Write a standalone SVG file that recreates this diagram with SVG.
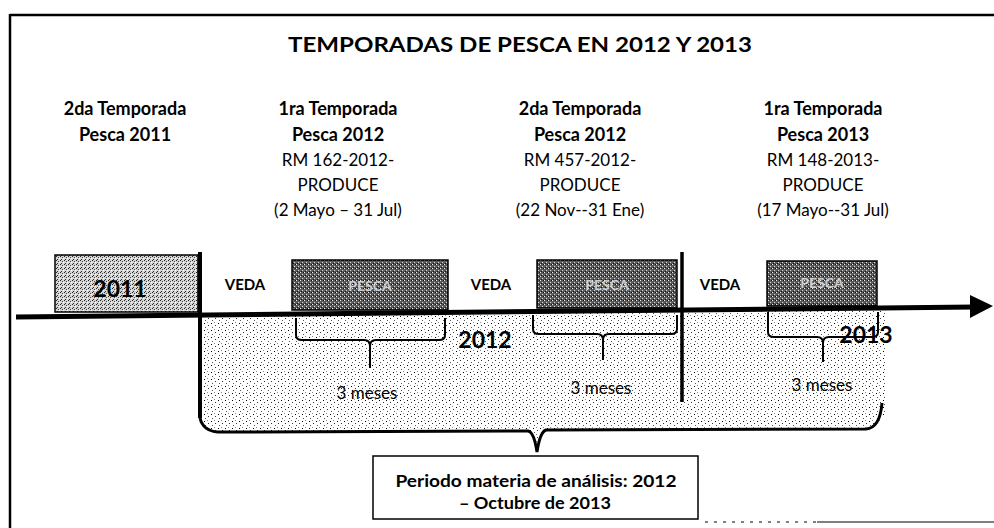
<svg xmlns="http://www.w3.org/2000/svg" width="994" height="528" viewBox="0 0 994 528">
<style>
text{font-family:Lato,"Liberation Sans",sans-serif;fill:#000;text-anchor:middle}
.h{font-size:18px;font-weight:bold}
.r{font-size:17px}
.yr{font-size:23px;font-weight:bold}
.veda{font-size:15px;font-weight:bold}
.pes{font-size:14px;font-weight:bold;fill:#cfcfcf}
.ms{font-size:17px}
.box{stroke:#000;stroke-width:1.5}
.ln{fill:none;stroke:#000;stroke-linecap:butt;stroke-linejoin:round}
</style>
<defs>
<pattern id="pLight" width="7" height="7" patternUnits="userSpaceOnUse">
<rect width="7" height="7" fill="#fff"/>
<rect x="1" y="1" width="1" height="1" fill="#000"/>
<rect x="5" y="3" width="1" height="1" fill="#333"/>
<rect x="2" y="5" width="1" height="1" fill="#555"/>
<rect x="4" y="0" width="1" height="1" fill="#888"/>
</pattern>
<pattern id="pMed" width="4" height="4" patternUnits="userSpaceOnUse">
<rect width="4" height="4" fill="#d4d4d4"/>
<rect x="0" y="0" width="1" height="1" fill="#222"/>
<rect x="2" y="1" width="1" height="1" fill="#444"/>
<rect x="1" y="3" width="1" height="1" fill="#333"/>
<rect x="3" y="2" width="1" height="1" fill="#fff"/>
</pattern>
<pattern id="pDark" width="4" height="4" patternUnits="userSpaceOnUse">
<rect width="4" height="4" fill="#5a5a5a"/>
<rect x="0" y="0" width="1" height="1" fill="#eee"/>
<rect x="2" y="2" width="1" height="1" fill="#ddd"/>
<rect x="3" y="0" width="1" height="1" fill="#111"/>
<rect x="1" y="3" width="1" height="1" fill="#111"/>
</pattern>
</defs>

<g id="frame">
<line x1="10" y1="15" x2="994" y2="15" stroke="#000" stroke-width="2.5"/>
<line x1="10" y1="14" x2="10" y2="528" stroke="#000" stroke-width="2.5"/>
<line x1="705" y1="522" x2="817" y2="522" stroke="#000" stroke-width="1" stroke-dasharray="3 6"/>
<line x1="817" y1="522" x2="994" y2="522" stroke="#000" stroke-width="1.2"/>
</g>

<g id="title"><text x="520" y="52" style="font-size:21px;font-weight:bold" textLength="464" lengthAdjust="spacingAndGlyphs">TEMPORADAS DE PESCA EN 2012 Y 2013</text></g>

<g id="label-2011">
<text class="h" x="125" y="115">2da Temporada</text>
<text class="h" x="125" y="141">Pesca 2011</text>
</g>
<g id="label-1ra-2012">
<text class="h" x="338" y="115">1ra Temporada</text>
<text class="h" x="338" y="141">Pesca 2012</text>
<text class="r" x="338" y="166">RM 162-2012-</text>
<text class="r" x="338" y="191">PRODUCE</text>
<text class="r" x="338" y="216">(2 Mayo – 31 Jul)</text>
</g>
<g id="label-2da-2012">
<text class="h" x="580" y="115">2da Temporada</text>
<text class="h" x="580" y="141">Pesca 2012</text>
<text class="r" x="580" y="166">RM 457-2012-</text>
<text class="r" x="580" y="191">PRODUCE</text>
<text class="r" x="580" y="216">(22 Nov--31 Ene)</text>
</g>
<g id="label-1ra-2013">
<text class="h" x="823" y="115">1ra Temporada</text>
<text class="h" x="823" y="141">Pesca 2013</text>
<text class="r" x="823" y="166">RM 148-2013-</text>
<text class="r" x="823" y="191">PRODUCE</text>
<text class="r" x="823" y="216">(17 Mayo--31 Jul)</text>
</g>

<g id="period-area">
<path d="M200,316 L886,309 L886,405 Q884,428 866,429 L546,430 Q540,432 537,450 Q534,432 528,431 L218,432 Q203,431 200,418 Z" fill="url(#pLight)"/>
</g>

<g id="box-2011">
<rect class="box" x="55" y="255" width="143" height="57" fill="url(#pMed)"/>
<text class="yr" x="120" y="297">2011</text>
</g>
<g id="pesca-1">
<rect class="box" x="292" y="260" width="156" height="50" fill="url(#pDark)"/>
<text class="pes" x="370" y="291">PESCA</text>
</g>
<g id="pesca-2">
<rect class="box" x="537" y="260" width="140" height="48" fill="url(#pDark)"/>
<text class="pes" x="607" y="290">PESCA</text>
</g>
<g id="pesca-3">
<rect class="box" x="767" y="261" width="110" height="45" fill="url(#pDark)"/>
<text class="pes" x="822" y="288">PESCA</text>
</g>

<g id="veda-labels">
<text class="veda" x="245" y="290">VEDA</text>
<text class="veda" x="491" y="290">VEDA</text>
<text class="veda" x="720" y="290">VEDA</text>
</g>

<g id="year-labels">
<text class="yr" x="485" y="348">2012</text>
<text class="yr" x="866" y="343">2013</text>
</g>

<g id="meses">
<text class="ms" x="367" y="399">3 meses</text>
<text class="ms" x="601" y="394">3 meses</text>
<text class="ms" x="822" y="391">3 meses</text>
</g>

<g id="connectors">
<line x1="16" y1="317" x2="975" y2="307" stroke="#000" stroke-width="5"/>
<polygon points="970,295 993,306 970,318" fill="#000"/>
<line x1="200" y1="252" x2="200" y2="418" stroke="#000" stroke-width="4"/>
<line x1="682" y1="252" x2="682" y2="402" stroke="#000" stroke-width="3.5"/>
<path class="ln" stroke-width="3" d="M200,418 Q203,431 218,432 L528,431 Q534,432 537,452 M537,452 Q540,432 546,430 L866,429 Q880,428 882,403"/>
<path class="ln" stroke-width="2" d="M296,318 L296,335 Q296,340 302,340 L364,340 Q370,340 370,346 L370,368 M370,346 Q370,340 376,340 L439,340 Q445,340 445,335 L445,318"/>
<path class="ln" stroke-width="2" d="M533,315 L533,329 Q533,334 539,334 L597,334 Q603,334 603,340 L603,360 M603,340 Q603,334 609,334 L671,334 Q677,334 677,329 L677,315"/>
<path class="ln" stroke-width="2" d="M768,312 L768,332 Q768,337 774,337 L817,337 Q823,337 823,343 L823,362 M823,343 Q823,337 829,337 L872,337 Q878,337 878,332 L878,312"/>
</g>

<g id="analysis-box">
<rect x="373" y="456" width="325" height="63" fill="#fff" stroke="#000" stroke-width="1.5"/>
<text x="536" y="487" style="font-size:17px;font-weight:bold" textLength="281" lengthAdjust="spacingAndGlyphs">Periodo materia de análisis: 2012</text>
<text x="535" y="509" style="font-size:17px;font-weight:bold" textLength="152" lengthAdjust="spacingAndGlyphs">– Octubre de 2013</text>
</g>
</svg>
